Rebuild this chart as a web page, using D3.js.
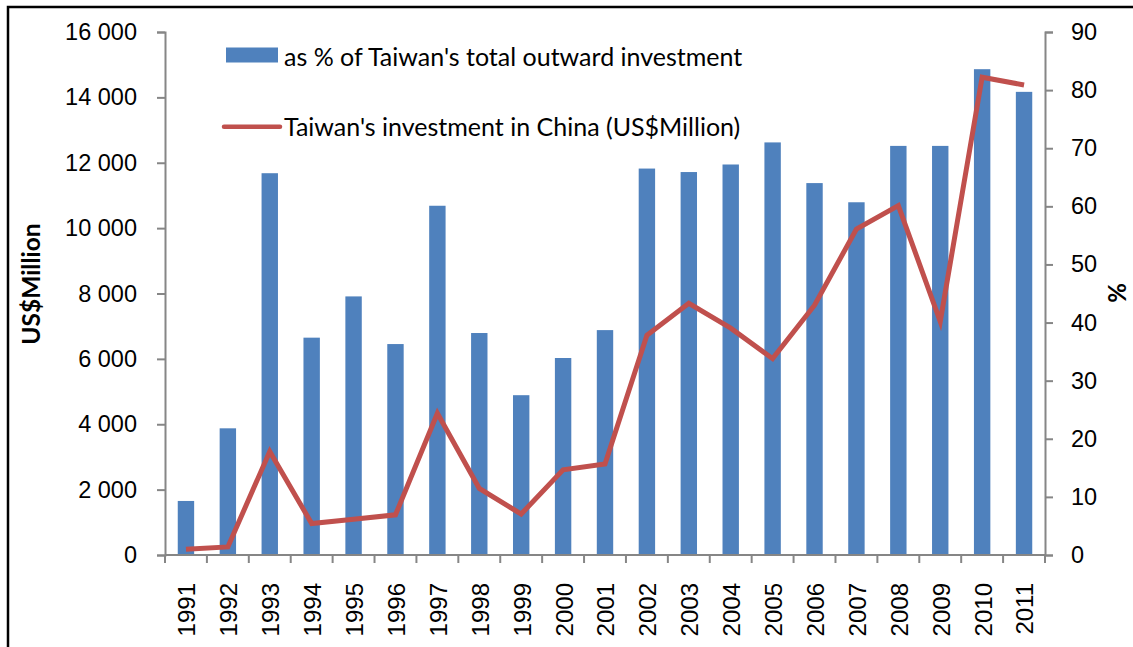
<!DOCTYPE html>
<html lang="en">
<head>
<meta charset="UTF-8">
<title>Taiwan investment in China</title>
<script src="https://d3js.org/d3.v7.min.js"></script>
<style>
  body { margin: 0; background: #fff; }
  svg { font-family: Lato, "Open Sans", sans-serif; }
</style>
</head>
<body>
<script>
const years = ["1991","1992","1993","1994","1995","1996","1997","1998","1999","2000","2001",
               "2002","2003","2004","2005","2006","2007","2008","2009","2010","2011"];
// bars: share of total outward investment (%), right axis
const sharePct = [9.3, 21.8, 65.7, 37.4, 44.5, 36.3, 60.1, 38.2, 27.5, 33.9, 38.7,
                  66.5, 65.9, 67.2, 71.0, 64.0, 60.7, 70.4, 70.4, 83.6, 79.7];
// line: investment in China, US$ million, left axis
const investUSD = [174, 247, 3168, 962, 1093, 1229, 4334, 2035, 1253, 2607, 2784,
                   6723, 7699, 6941, 6007, 7642, 9971, 10691, 7143, 14618, 14377];
const leftTicks = [0, 2000, 4000, 6000, 8000, 10000, 12000, 14000, 16000];
const rightTicks = [0, 10, 20, 30, 40, 50, 60, 70, 80, 90];

const width = 1133, height = 647;
const plotL = 165, plotR = 1045, plotT = 32, plotB = 555;

const svg = d3.select("body").append("svg")
  .attr("width", width).attr("height", height);

// frame (only left and top edges visible)
svg.append("path").attr("d", `M8,${height} V7 H${width}`)
  .attr("fill", "none").attr("stroke", "#000").attr("stroke-width", 2.5);

const x = d3.scaleBand().domain(years).range([plotL, plotR]).paddingInner(0).paddingOuter(0);
const yL = d3.scaleLinear().domain([0, 16000]).range([plotB, plotT]);
const yR = d3.scaleLinear().domain([0, 90]).range([plotB, plotT]);

const fmt = d => d3.format(",")(d).replace(",", " ");
const axisCol = "#868686";

// bars
svg.append("g").selectAll("rect")
  .data(years)
  .join("rect")
  .attr("x", d => x(d) + x.bandwidth() / 2 - 8.2)
  .attr("width", 16.4)
  .attr("y", (d, i) => yR(sharePct[i]))
  .attr("height", (d, i) => plotB - yR(sharePct[i]))
  .attr("fill", "#4F81BD");

// left axis
const gL = svg.append("g").attr("transform", `translate(${plotL},0)`)
  .call(d3.axisLeft(yL).tickValues(leftTicks).tickFormat(fmt).tickSize(8).tickPadding(20));
// right axis
const gR = svg.append("g").attr("transform", `translate(${plotR},0)`)
  .call(d3.axisRight(yR).tickValues(rightTicks).tickSize(8).tickPadding(18));
// x axis with ticks at band edges
const gX = svg.append("g").attr("transform", `translate(0,${plotB})`)
  .call(d3.axisBottom(x).tickSize(0).tickPadding(14));
gX.selectAll(".tick text")
  .attr("transform", "rotate(-90)")
  .attr("text-anchor", "end")
  .attr("x", -28).attr("y", 1).attr("dy", "0.35em");
gX.selectAll(".edge").data(years.concat(["end"]))
  .join("line").attr("class", "edge")
  .attr("x1", (d, i) => plotL + i * x.bandwidth())
  .attr("x2", (d, i) => plotL + i * x.bandwidth())
  .attr("y1", 0).attr("y2", 8)
  .attr("stroke", axisCol).attr("stroke-width", 2);

[gL, gR, gX].forEach(g => {
  g.select(".domain").attr("stroke", axisCol).attr("stroke-width", 2);
  g.selectAll(".tick line").attr("stroke", axisCol).attr("stroke-width", 2);
  g.selectAll(".tick text").attr("fill", "#000").style("font-size", "23.5px");
});
gX.selectAll(".tick text").style("font-size", "24px");
gX.select(".domain").attr("d", `M${plotL},0H${plotR}`);

// line
const line = d3.line()
  .x((d, i) => x(years[i]) + x.bandwidth() / 2)
  .y(d => yL(d));
svg.append("path").datum(investUSD)
  .attr("d", line)
  .attr("fill", "none")
  .attr("stroke", "#C0504D")
  .attr("stroke-width", 5)
  .attr("stroke-linejoin", "miter");

// axis titles
svg.append("text")
  .attr("transform", "translate(40,284) rotate(-90)")
  .attr("text-anchor", "middle")
  .style("font-size", "24.5px").style("font-weight", "bold")
  .text("US$Million");
svg.append("text")
  .attr("transform", "translate(1126,293) rotate(-90)")
  .attr("text-anchor", "middle")
  .style("font-size", "24px").style("font-weight", "bold")
  .text("%");

// legend
const leg = svg.append("g");
leg.append("rect").attr("x", 226).attr("y", 47.5).attr("width", 52).attr("height", 15)
  .attr("fill", "#4F81BD");
leg.append("text").attr("x", 284).attr("y", 65.5).style("font-size", "25px")
  .text("as % of Taiwan's total outward investment");
leg.append("line").attr("x1", 224).attr("x2", 280).attr("y1", 126.7).attr("y2", 126.7)
  .attr("stroke", "#C0504D").attr("stroke-width", 4.5).attr("stroke-linecap", "round");
leg.append("text").attr("x", 284).attr("y", 136).style("font-size", "25px")
  .text("Taiwan's investment in China (US$Million)");
</script>
</body>
</html>
